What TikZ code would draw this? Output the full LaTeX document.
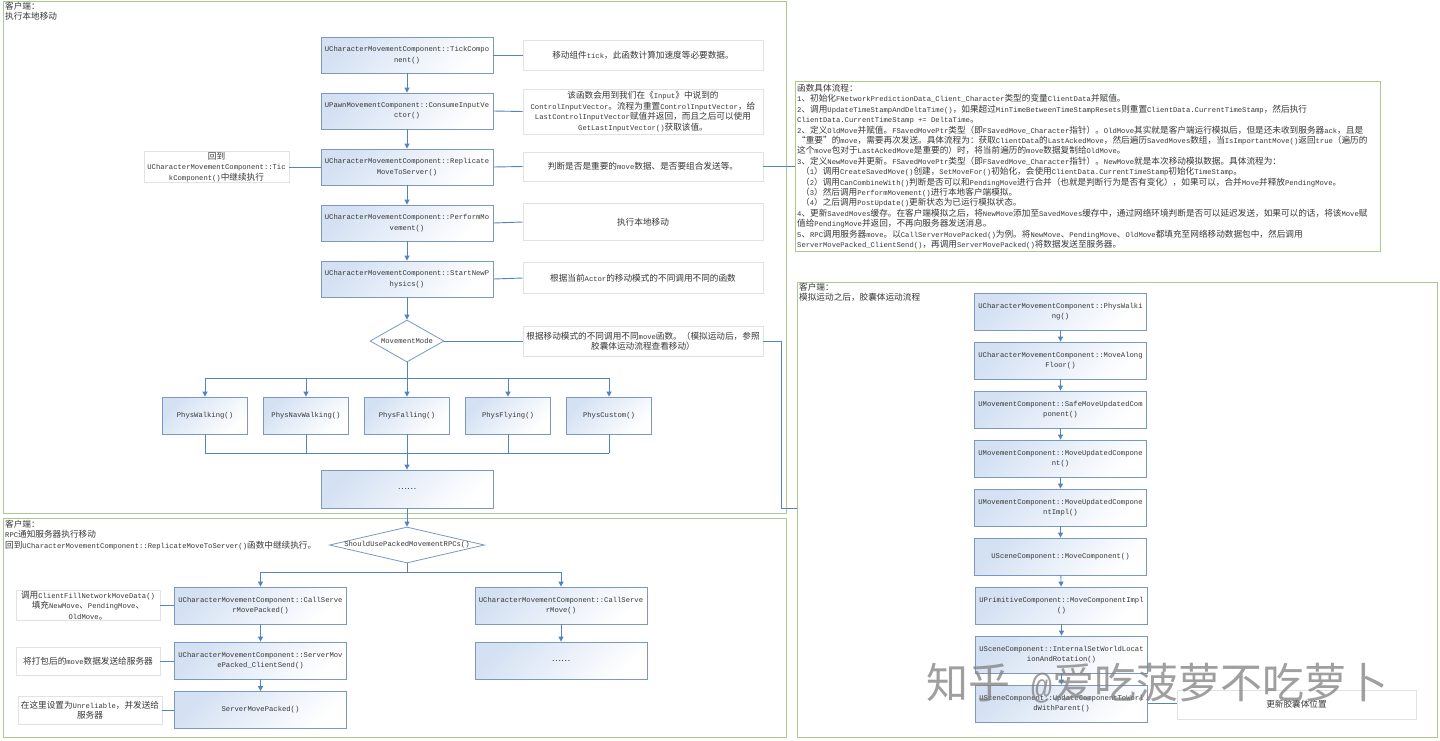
\documentclass[tikz,border=0pt]{standalone}
\usepackage{fontspec}
\setmainfont{Liberation Mono}
\newfontfamily\latfont{Liberation Mono}
\newfontfamily\cjkfont{Noto Sans CJK SC}[Scale=1.2]
\usetikzlibrary{shapes.geometric,arrows.meta}
\definecolor{framegreen}{RGB}{172,200,140}
\definecolor{boxline}{RGB}{125,152,190}
\definecolor{boxtint}{RGB}{212,225,243}
\definecolor{notegray}{RGB}{226,226,226}
\definecolor{linkblue}{RGB}{84,132,192}
\definecolor{txtc}{RGB}{55,55,55}
\XeTeXinterchartokenstate=1
\newXeTeXintercharclass\cjkcls
\newcount\cjkcc
\def\setcjkrange#1#2{\cjkcc=#1\relax
  \loop\XeTeXcharclass\cjkcc=\cjkcls\relax
  \ifnum\cjkcc<#2\relax\advance\cjkcc by 1\relax\repeat}
\setcjkrange{"3000}{"303F}
\setcjkrange{"4E00}{"9FFF}
\setcjkrange{"FF00}{"FFEF}
\setcjkrange{"2018}{"201D}
\setcjkrange{"2026}{"2026}
\XeTeXinterchartoks 0 \cjkcls = {\cjkfont}
\XeTeXinterchartoks 4095 \cjkcls = {\cjkfont}
\XeTeXinterchartoks \cjkcls 0 = {\latfont}
\XeTeXinterchartoks \cjkcls 4095 = {\latfont}
\begin{document}
\begin{tikzpicture}[x=1pt,y=-1pt,
  every node/.style={font=\fontsize{7.2}{10.4}\selectfont, text=txtc},
  fnbox/.style={draw=boxline, line width=0.8pt, top color=boxtint, bottom color=white, shading angle=45, minimum width=172pt, minimum height=37pt, inner sep=1pt, align=center},
  note/.style={draw=notegray, fill=white, line width=0.8pt, inner sep=1pt, align=center},
  grp/.style={draw=framegreen, line width=1pt, inner sep=0pt, anchor=north west},
  conn/.style={draw=linkblue, line width=0.9pt},
  arr/.style={conn, -{Triangle[length=5pt,width=5pt]}},
  dia/.style={draw=boxline, fill=white, line width=0.8pt, shape=diamond, inner sep=0pt},
  hdr/.style={anchor=north west, align=left, inner sep=0pt}]
\fill[white] (0,0) rectangle (1440,740);
\useasboundingbox (0,0) rectangle (1440,740);

% group frames
\node[grp, minimum width=783pt, minimum height=512pt] (f1) at (3,1) {};
\node[grp, minimum width=783pt, minimum height=219pt] (f2) at (3,518) {};
\node[grp, minimum width=640pt, minimum height=455pt] (f3) at (797,282) {};
\node[grp, minimum width=585pt, minimum height=170pt] (desc) at (795,81) {};

% headers
\node[hdr] (h1) at (5,2) {客户端：\\执行本地移动};
\node[hdr] (h2) at (5,520) {客户端：\\RPC通知服务器执行移动\\回到UCharacterMovementComponent::ReplicateMoveToServer()函数中继续执行。};
\node[hdr] (h3) at (799,283) {客户端：\\模拟运动之后，胶囊体运动流程};

% description text
\node[hdr] (dt) at (797,84) {函数具体流程：\\
1、初始化FNetworkPredictionData\_Client\_Character类型的变量ClientData并赋值。\\
2、调用UpdateTimeStampAndDeltaTime()，如果超过MinTimeBetweenTimeStampResets则重置ClientData.CurrentTimeStamp，然后执行\\
ClientData.CurrentTimeStamp += DeltaTime。\\
2、定义OldMove并赋值。FSavedMovePtr类型（即FSavedMove\_Character指针）。OldMove其实就是客户端运行模拟后，但是还未收到服务器ack，且是\\
“重要”的move，需要再次发送。具体流程为：获取ClientData的LastAckedMove，然后遍历SavedMoves数组，当IsImportantMove()返回true（遍历的\\
这个move包对于LastAckedMove是重要的）时，将当前遍历的move数据复制给OldMove。\\
3、定义NewMove并更新。FSavedMovePtr类型（即FSavedMove\_Character指针）。NewMove就是本次移动模拟数据。具体流程为：\\
\hspace*{4pt}（1）调用CreateSavedMove()创建，SetMoveFor()初始化，会使用ClientData.CurrentTimeStamp初始化TimeStamp。\\
\hspace*{4pt}（2）调用CanCombineWith()判断是否可以和PendingMove进行合并（也就是判断行为是否有变化），如果可以，合并Move并释放PendingMove。\\
\hspace*{4pt}（3）然后调用PerformMovement()进行本地客户端模拟。\\
\hspace*{4pt}（4）之后调用PostUpdate()更新状态为已运行模拟状态。\\
4、更新SavedMoves缓存。在客户端模拟之后，将NewMove添加至SavedMoves缓存中，通过网络环境判断是否可以延迟发送，如果可以的话，将该Move赋\\
值给PendingMove并返回，不再向服务器发送消息。\\
5、RPC调用服务器move。以CallServerMovePacked()为例。将NewMove、PendingMove、OldMove都填充至网络移动数据包中，然后调用\\
ServerMovePacked\_ClientSend()，再调用ServerMovePacked()将数据发送至服务器。};

% main column
\node[fnbox, minimum height=36pt] (n1) at (407,55) {UCharacterMovementComponent::TickCompo\\nent()};
\node[fnbox, minimum height=36pt] (n2) at (407,111) {UPawnMovementComponent::ConsumeInputVe\\ctor()};
\node[fnbox, minimum height=36pt] (n3) at (407,167) {UCharacterMovementComponent::Replicate\\MoveToServer()};
\node[fnbox, minimum height=36pt] (n4) at (407,223) {UCharacterMovementComponent::PerformMo\\vement()};
\node[fnbox, minimum height=36pt] (n5) at (407,279) {UCharacterMovementComponent::StartNewP\\hysics()};
\node[dia, aspect=1.76, minimum width=74pt, minimum height=42pt] (mm) at (407,341) {MovementMode};

\node[fnbox, minimum width=85pt] (p1) at (205,415.5) {PhysWalking()};
\node[fnbox, minimum width=85pt] (p2) at (306,415.5) {PhysNavWalking()};
\node[fnbox, minimum width=85pt] (p3) at (407,415.5) {PhysFalling()};
\node[fnbox, minimum width=85pt] (p4) at (508,415.5) {PhysFlying()};
\node[fnbox, minimum width=85pt] (p5) at (609,415.5) {PhysCustom()};
\node[fnbox, minimum height=38pt] (dots) at (407,489) {……};

% annotations
\node[note, minimum width=240pt, minimum height=30pt] (a1) at (643,55) {移动组件tick，此函数计算加速度等必要数据。};
\node[note, minimum width=240pt, minimum height=45pt] (a2) at (643,111.5) {该函数会用到我们在《Input》中说到的\\ControlInputVector。流程为重置ControlInputVector，给\\LastControlInputVector赋值并返回，而且之后可以使用\\GetLastInputVector()获取该值。};
\node[note, minimum width=240pt, minimum height=29pt] (a3) at (643,166.5) {判断是否是重要的move数据、是否要组合发送等。};
\node[note, minimum width=240pt, minimum height=37pt] (a4) at (643,222) {执行本地移动};
\node[note, minimum width=240pt, minimum height=31pt] (a5) at (643,278) {根据当前Actor的移动模式的不同调用不同的函数};
\node[note, minimum width=240pt, minimum height=30pt] (a6) at (643,341) {根据移动模式的不同调用不同move函数。（模拟运动后，参照\\胶囊体运动流程查看移动）};
\node[note, minimum width=145pt, minimum height=30pt] (back) at (216.5,167) {回到\\UCharacterMovementComponent::Tic\\kComponent()中继续执行};

% bottom-left section
\node[dia, aspect=4.3, minimum width=155pt, minimum height=36pt] (sd) at (407,545) {ShouldUsePackedMovementRPCs()};
\node[fnbox] (l1) at (260.5,605.5) {UCharacterMovementComponent::CallServe\\rMovePacked()};
\node[fnbox] (l2) at (260.5,660.5) {UCharacterMovementComponent::ServerMov\\ePacked\_ClientSend()};
\node[fnbox] (l3) at (260.5,710) {ServerMovePacked()};
\node[fnbox] (r1) at (561,605.5) {UCharacterMovementComponent::CallServe\\rMove()};
\node[fnbox] (r2) at (561,660.5) {……};
\node[note, minimum width=144pt, minimum height=29pt] (la1) at (88,605.5) {调用ClientFillNetworkMoveData()\\填充NewMove、PendingMove、\\OldMove。};
\node[note, minimum width=144pt, minimum height=28pt] (la2) at (88,661) {将打包后的move数据发送给服务器};
\node[note, minimum width=144pt, minimum height=28pt] (la3) at (90,710) {在这里设置为Unreliable，并发送给\\服务器};

% right column
\node[fnbox] (b1) at (1060.5,311.5) {UCharacterMovementComponent::PhysWalki\\ng()};
\node[fnbox] (b2) at (1060.5,360.5) {UCharacterMovementComponent::MoveAlong\\Floor()};
\node[fnbox] (b3) at (1060.5,409.5) {UMovementComponent::SafeMoveUpdatedCom\\ponent()};
\node[fnbox] (b4) at (1060.5,458.5) {UMovementComponent::MoveUpdatedCompone\\nt()};
\node[fnbox] (b5) at (1060.5,507.5) {UMovementComponent::MoveUpdatedCompone\\ntImpl()};
\node[fnbox] (b6) at (1060.5,556.5) {USceneComponent::MoveComponent()};
\node[fnbox] (b7) at (1061.5,605.5) {UPrimitiveComponent::MoveComponentImpl\\()};
\node[fnbox] (b8) at (1061.5,654.5) {USceneComponent::InternalSetWorldLocat\\ionAndRotation()};
\node[fnbox] (b9) at (1061.5,703.5) {USceneComponent::UpdateComponentToWorl\\dWithParent()};
\node[note, minimum width=239pt, minimum height=29pt] (upd) at (1296.5,704.5) {更新胶囊体位置};

% connectors: main column
\draw[arr] (n1) -- (n2);
\draw[arr] (n2) -- (n3);
\draw[arr] (n3) -- (n4);
\draw[arr] (n4) -- (n5);
\draw[arr] (n5) -- (mm);
\foreach \b/\a in {n1/a1,n2/a2,n3/a3,n4/a4,n5/a5,mm/a6}
  \draw[conn] (\b.east) -- (\a.west);
\draw[conn] (n3.west) -- (back.east);
\draw[conn] (a3.east) -- (a3.east -| desc.west);
\coordinate (bend) at (781,508);
\draw[conn] (a6.east) -| (bend) -- (bend -| f3.west);

\coordinate (bar) at (407,378);
\draw[conn] (bar -| p1.north) -- (bar -| p5.north);
\draw[arr] (mm.south) -- (p3.north);
\foreach \p in {p1,p2,p4,p5}
  \draw[arr] (bar -| \p.north) -- (\p.north);
\coordinate (barb) at (407,453);
\foreach \p in {p1,p2,p4,p5}
  \draw[conn] (\p.south) -- (barb -| \p.south);
\draw[conn] (barb -| p1.south) -- (barb -| p5.south);
\draw[arr] (p3.south) -- (dots.north);

% connectors: bottom section
\draw[arr] (dots.south) -- (sd.north);
\coordinate (barc) at (407,572);
\draw[conn] (sd.south) -- (barc);
\draw[conn] (barc -| l1.north) -- (barc -| r1.north);
\draw[arr] (barc -| l1.north) -- (l1.north);
\draw[arr] (barc -| r1.north) -- (r1.north);
\draw[arr] (l1) -- (l2);
\draw[arr] (l2) -- (l3);
\draw[arr] (r1) -- (r2);
\draw[conn] (la1.east) -- (la1.east -| l1.west);
\draw[conn] (la2.east) -- (la2.east -| l2.west);
\draw[conn] (la3.east) -- (la3.east -| l3.west);

% connectors: right column
\draw[arr] (b1) -- (b2);
\draw[arr] (b2) -- (b3);
\draw[arr] (b3) -- (b4);
\draw[arr] (b4) -- (b5);
\draw[arr] (b5) -- (b6);
\draw[arr] (b6) -- (b7);
\draw[arr] (b7) -- (b8);
\draw[arr] (b8) -- (b9);
\draw[conn] (b9.east) -- (b9.east -| upd.west);

% watermark
\node[anchor=west, inner sep=0pt, font=\fontsize{35}{40}\selectfont, text=black!50, opacity=0.75] (wm) at (926,683) {知乎 @爱吃菠萝不吃萝卜};
\end{tikzpicture}
\end{document}
